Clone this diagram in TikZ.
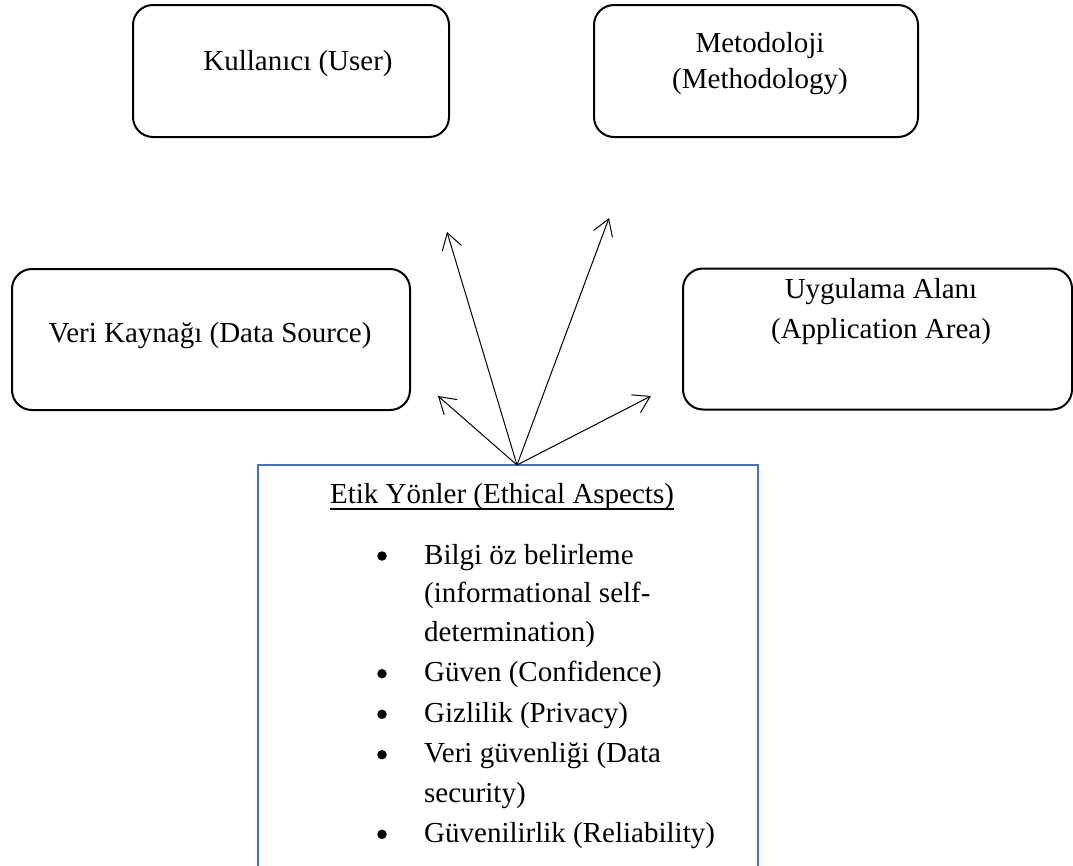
\documentclass[tikz,border=0pt]{standalone}
\usepackage{fontspec}
\setmainfont{Liberation Serif}
\usetikzlibrary{arrows.meta}
\definecolor{boxblue}{HTML}{4472C4}
\begin{document}
\begin{tikzpicture}[x=1pt,y=-1pt,
  catbox/.style={draw=black, line width=2pt, rounded corners=20pt, inner sep=0pt},
  lbl/.style={font=\fontsize{29}{34}\selectfont, inner sep=0pt, anchor=base},
  item/.style={font=\fontsize{29}{34}\selectfont, inner sep=0pt, anchor=base west},
  dot/.style={circle, fill=black, inner sep=0pt, minimum size=9.5pt},
  link/.style={line width=1pt, -{Straight Barb[length=16pt,width=20pt]}}]
\useasboundingbox (0,0) rectangle (1073,865);

% category boxes
\node[catbox, minimum width=316pt, minimum height=132pt] (user) at (291,71) {};
\node[catbox, minimum width=324pt, minimum height=132pt] (method) at (756,71) {};
\node[catbox, minimum width=398pt, minimum height=141pt] (data) at (211,339.5) {};
\node[catbox, minimum width=389pt, minimum height=141pt] (app) at (877.5,339) {};

\node[lbl] (userT) at (298,70) {Kullanıcı (User)};
\node[lbl] (methT1) at (760,52) {Metodoloji};
\node[lbl] (methT2) at (760,88) {(Methodology)};
\node[lbl] (dataT) at (210,342) {Veri Kaynağı (Data Source)};
\node[lbl] (appT1) at (881,298) {Uygulama Alanı};
\node[lbl] (appT2) at (881,338) {(Application Area)};

% ethical aspects frame (open at the bottom)
\node[minimum width=500pt, minimum height=420pt, inner sep=0pt] (etik) at (508,675) {};
\draw[boxblue, line width=2.5pt] (etik.south west) -- (etik.north west) -- (etik.north east) -- (etik.south east);

% arrows
\coordinate (src) at (517,465);
\coordinate (t1) at (447,232);
\coordinate (t2) at (609,218);
\coordinate (t3) at (438,396);
\coordinate (t4) at (651,396);
\draw[link] (src) -- (t1);
\draw[link] (src) -- (t2);
\draw[link] (src) -- (t3);
\draw[link] (src) -- (t4);

% heading
\node[lbl] (head) at (502,503) {Etik Yönler (Ethical Aspects)};
\draw[line width=1.3pt] ([yshift=-6pt]head.base west) -- ([yshift=-6pt]head.base east);

% list
\node[item] (l1) at (424,564) {Bilgi öz belirleme};
\node[item] (l1b) at (424,602.3) {(informational self-};
\node[item] (l1c) at (424,641) {determination)};
\node[item] (l2) at (424,681.7) {Güven (Confidence)};
\node[item] (l3) at (424,722.3) {Gizlilik (Privacy)};
\node[item] (l4) at (424,762.7) {Veri güvenliği (Data};
\node[item] (l4b) at (424,802.3) {security)};
\node[item] (l5) at (424,842.3) {Güvenilirlik (Reliability)};

\node[dot] (b1) at (382,556) {};
\node[dot] (b2) at (382,673.7) {};
\node[dot] (b3) at (382,714.3) {};
\node[dot] (b4) at (382,754.7) {};
\node[dot] (b5) at (382,834.3) {};
\end{tikzpicture}
\end{document}
